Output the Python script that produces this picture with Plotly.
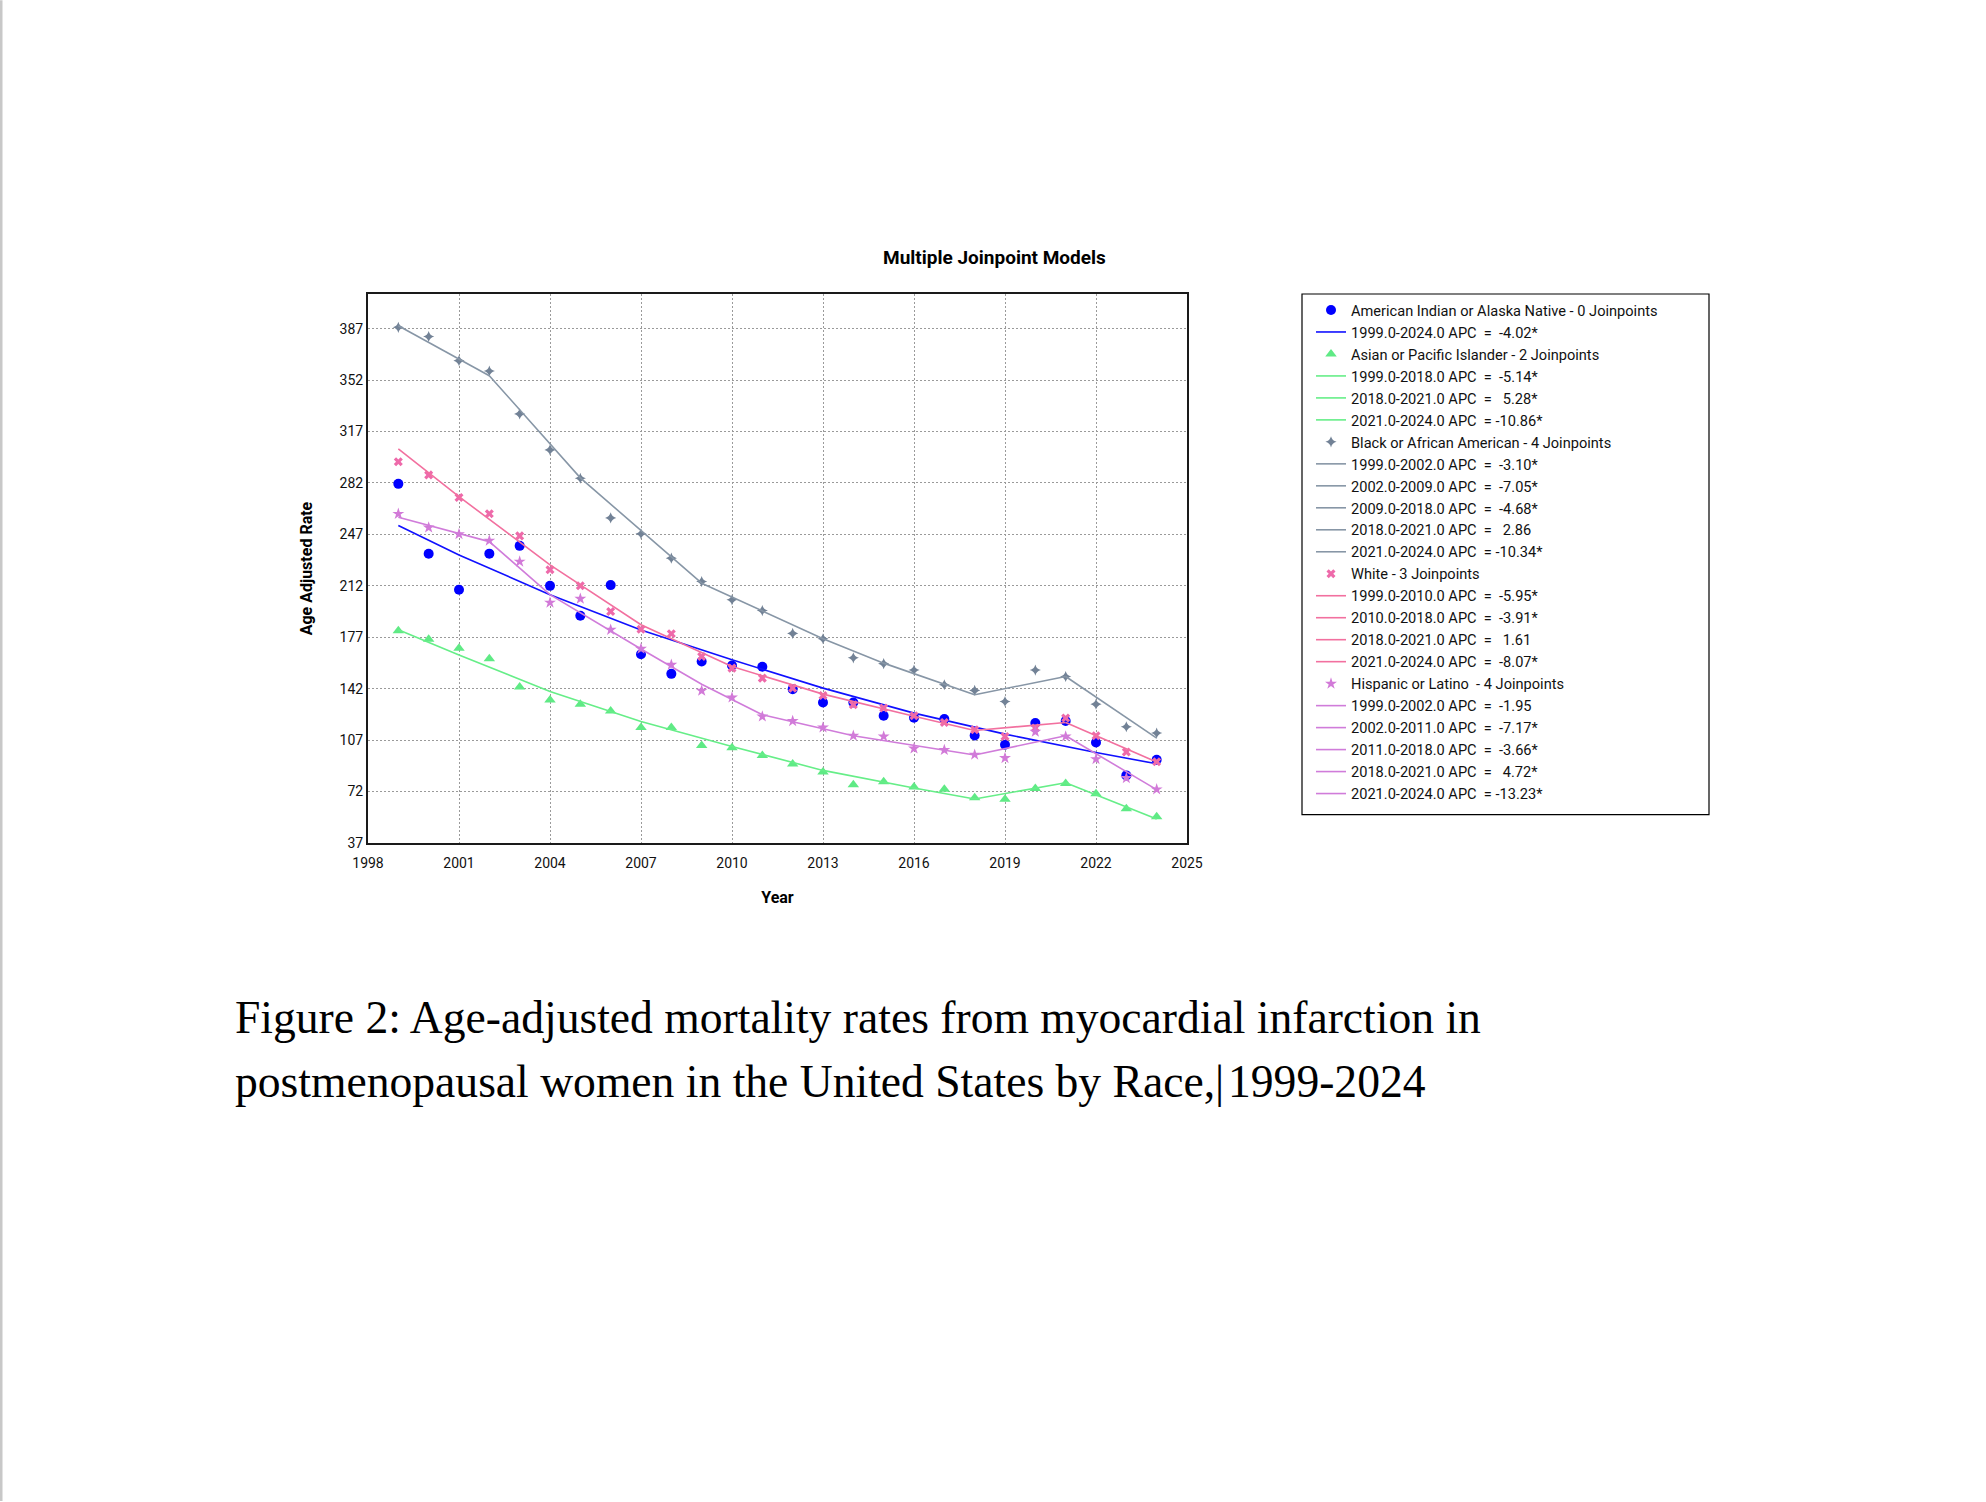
import plotly.graph_objects as go

# ---------------- data ----------------
years = list(range(1999, 2025))

aian_rate = [281.4, 233.8, 209.3, 233.9, 239.2, 212.0, 191.6, 212.5, 165.5, 152.1,
             160.5, 157.8, 156.9, 141.7, 132.6, 132.6, 123.6, 122.2, 121.3, 110.2,
             103.9, 118.6, 120.0, 105.4, 83.0, 93.7]
asian_rate = [181.4, 175.7, 169.6, 162.3, 143.1, 134.3, 131.5, 126.8, 115.6, 115.6,
              103.4, 101.8, 96.6, 90.7, 85.3, 76.7, 78.7, 75.1, 73.5, 67.8,
              66.7, 74.1, 77.5, 70.5, 60.3, 54.9]
black_rate = [387.9, 381.6, 365.2, 358.2, 329.0, 304.5, 285.2, 258.2, 247.4, 230.8,
              214.9, 202.5, 195.2, 179.6, 176.0, 163.0, 159.0, 154.7, 144.7, 140.8,
              133.3, 154.7, 150.3, 131.5, 116.1, 111.8]
white_rate = [296.5, 287.5, 272.1, 261.0, 246.0, 222.9, 212.0, 194.5, 182.5, 179.4,
              163.9, 156.0, 149.2, 142.4, 137.4, 131.1, 128.8, 123.6, 119.0, 114.1,
              109.5, 115.2, 122.0, 110.0, 98.9, 92.3]
hisp_rate = [261.0, 251.7, 247.2, 242.8, 228.5, 200.6, 203.2, 182.1, 169.2, 158.3,
             140.6, 136.0, 123.1, 120.0, 115.6, 110.0, 109.5, 101.3, 100.3, 97.1,
             94.8, 112.7, 109.5, 94.1, 81.2, 73.5]

# fitted (joinpoint model) values
aian_fit_years = [1999, 2001, 2004, 2007, 2010, 2013, 2016, 2019, 2022, 2024]
aian_fit = [253.0, 233.0, 206.0, 182.0, 161.7, 142.4, 125.4, 111.1, 98.6, 90.9]
asian_fit_years = [1999, 2001, 2004, 2007, 2010, 2013, 2016, 2018, 2021, 2024]
asian_fit = [182.1, 165.0, 140.1, 119.7, 102.7, 86.4, 74.4, 66.9, 78.0, 53.3]
black_fit_years = [1999, 2002, 2005, 2009, 2013, 2015, 2018, 2021, 2024]
black_fit = [389.0, 355.0, 285.5, 213.8, 176.0, 159.4, 137.9, 150.3, 108.4]
white_fit_years = [1999, 2001, 2004, 2007, 2010, 2013, 2016, 2018, 2021, 2024]
white_fit = [305.2, 272.7, 226.3, 185.5, 157.1, 138.3, 123.3, 113.6, 119.0, 92.1]
hisp_fit_years = [1999, 2002, 2004, 2007, 2009, 2011, 2014, 2018, 2021, 2024]
hisp_fit = [258.7, 242.1, 206.0, 169.0, 145.0, 124.3, 110.0, 96.9, 110.0, 73.3]

aian_joins = [1999, 2024]
asian_joins = [1999, 2018, 2021, 2024]
black_joins = [1999, 2002, 2009, 2018, 2021, 2024]
white_joins = [1999, 2010, 2018, 2021, 2024]
hisp_joins = [1999, 2002, 2011, 2018, 2021, 2024]

aian_name = "American Indian or Alaska Native - 0 Joinpoints"
asian_name = "Asian or Pacific Islander - 2 Joinpoints"
black_name = "Black or African American - 4 Joinpoints"
white_name = "White - 3 Joinpoints"
hisp_name = "Hispanic or Latino  - 4 Joinpoints"

aian_seg = ["1999.0-2024.0 APC  =  -4.02*"]
asian_seg = ["1999.0-2018.0 APC  =  -5.14*", "2018.0-2021.0 APC  =   5.28*",
             "2021.0-2024.0 APC  = -10.86*"]
black_seg = ["1999.0-2002.0 APC  =  -3.10*", "2002.0-2009.0 APC  =  -7.05*",
             "2009.0-2018.0 APC  =  -4.68*", "2018.0-2021.0 APC  =   2.86",
             "2021.0-2024.0 APC  = -10.34*"]
white_seg = ["1999.0-2010.0 APC  =  -5.95*", "2010.0-2018.0 APC  =  -3.91*",
             "2018.0-2021.0 APC  =   1.61", "2021.0-2024.0 APC  =  -8.07*"]
hisp_seg = ["1999.0-2002.0 APC  =  -1.95", "2002.0-2011.0 APC  =  -7.17*",
            "2011.0-2018.0 APC  =  -3.66*", "2018.0-2021.0 APC  =   4.72*",
            "2021.0-2024.0 APC  = -13.23*"]

y_ticks = [37, 72, 107, 142, 177, 212, 247, 282, 317, 352, 387]
x_ticks = [1998, 2001, 2004, 2007, 2010, 2013, 2016, 2019, 2022, 2025]

# ---------------- layout geometry (pixels) ----------------
W, H = 1986, 1502
PL, PR, PT, PB = 368, 1187, 294, 843.5


def px2x(p):
    return (p - PL) / (PR - PL)


def px2y(p):
    return (PB - p) / (PB - PT)


def nb(s):
    return s.replace(" ", "\u00a0")


FONT = "Roboto, 'Open Sans', sans-serif"
SERIF = "'Liberation Serif', 'Times New Roman', serif"

series = [
    dict(name=aian_name, rate=aian_rate, fy=aian_fit_years, fv=aian_fit, joins=aian_joins,
         segs=aian_seg, mcolor="#0000FF", lcolor="#1010FF", symbol="circle", msize=10),
    dict(name=asian_name, rate=asian_rate, fy=asian_fit_years, fv=asian_fit, joins=asian_joins,
         segs=asian_seg, mcolor="#5FEA85", lcolor="#66EE88", symbol="triangle-up", msize=10),
    dict(name=black_name, rate=black_rate, fy=black_fit_years, fv=black_fit, joins=black_joins,
         segs=black_seg, mcolor="#728296", lcolor="#8796A6", symbol="star-diamond", msize=8),
    dict(name=white_name, rate=white_rate, fy=white_fit_years, fv=white_fit, joins=white_joins,
         segs=white_seg, mcolor="#EE6AAA", lcolor="#F2709F", symbol="x", msize=8),
    dict(name=hisp_name, rate=hisp_rate, fy=hisp_fit_years, fv=hisp_fit, joins=hisp_joins,
         segs=hisp_seg, mcolor="#D27AD8", lcolor="#D07CDA", symbol="star", msize=9),
]

fig = go.Figure()
for s in series:
    fig.add_trace(go.Scatter(
        x=years, y=s["rate"], mode="markers", name=nb(s["name"]),
        marker=dict(symbol=s["symbol"], size=s["msize"], color=s["mcolor"],
                    line=dict(width=0)),
    ))
    for i, lab in enumerate(s["segs"]):
        a, b = s["joins"][i], s["joins"][i + 1]
        xs = [yy for yy in s["fy"] if a <= yy <= b]
        ys = [v for yy, v in zip(s["fy"], s["fv"]) if a <= yy <= b]
        fig.add_trace(go.Scatter(
            x=xs, y=ys, mode="lines", name=nb(lab),
            line=dict(color=s["lcolor"], width=1.6),
        ))

annotations = [
    dict(text="Multiple Joinpoint Models", x=px2x(994), y=px2y(257), xref="paper", yref="paper",
         xanchor="center", yanchor="middle", showarrow=False,
         font=dict(family=FONT, size=19, color="#000000", weight="bold")),
    dict(text="Figure 2: Age-adjusted mortality rates from myocardial infarction in",
         x=px2x(233), y=px2y(1018), xref="paper", yref="paper", xanchor="left", yanchor="middle",
         showarrow=False, font=dict(family=SERIF, size=45.6, color="#000000")),
    dict(text="postmenopausal women in the United States by Race,|\u200a1999-2024",
         x=px2x(233), y=px2y(1082), xref="paper", yref="paper", xanchor="left", yanchor="middle",
         showarrow=False, font=dict(family=SERIF, size=45.6, color="#000000")),
]

shapes = [
    # legend frame
    dict(type="rect", xref="paper", yref="paper", x0=px2x(1302), x1=px2x(1709),
         y0=px2y(294), y1=px2y(815), line=dict(color="#000000", width=1.2),
         fillcolor="rgba(0,0,0,0)"),
    # page edge line at the left
    dict(type="rect", xref="paper", yref="paper", x0=px2x(0), x1=px2x(2.5),
         y0=px2y(0), y1=px2y(H), line=dict(width=0), fillcolor="#c8c8c8"),
]

fig.update_layout(
    width=W, height=H, autosize=False,
    margin=dict(l=PL, r=W - PR, t=PT, b=H - PB, pad=0),
    paper_bgcolor="#ffffff", plot_bgcolor="#ffffff",
    font=dict(family=FONT, size=14, color="#000000"),
    showlegend=True,
    legend=dict(x=px2x(1311), y=1.0, xanchor="left", yanchor="top",
                bgcolor="rgba(0,0,0,0)", borderwidth=0,
                font=dict(family=FONT, size=14.6, color="#111111"),
                itemclick=False, itemdoubleclick=False),
    annotations=annotations,
    shapes=shapes,
)

fig.update_xaxes(
    range=[1998, 2025], tickvals=x_ticks, ticktext=[str(v) for v in x_ticks],
    showgrid=True, gridcolor="#9a9a9a", gridwidth=1, griddash="2px,2px",
    zeroline=False, showline=True, linecolor="#1a1a1a", linewidth=2, mirror=True,
    ticks="", ticklabelstandoff=6, tickfont=dict(family=FONT, size=14, color="#111111"),
    title=dict(text="Year", standoff=22,
               font=dict(family=FONT, size=16, color="#000000", weight="bold")),
)
fig.update_yaxes(
    range=[37, 410.6], tickvals=y_ticks, ticktext=[str(v) for v in y_ticks],
    showgrid=True, gridcolor="#9a9a9a", gridwidth=1, griddash="2px,2px",
    zeroline=False, showline=True, linecolor="#1a1a1a", linewidth=2, mirror=True,
    ticks="", tickfont=dict(family=FONT, size=14, color="#111111"),
    title=dict(text="Age Adjusted Rate", standoff=23,
               font=dict(family=FONT, size=16, color="#000000", weight="bold")),
)

fig.write_html("out.html", config={"displayModeBar": False})
